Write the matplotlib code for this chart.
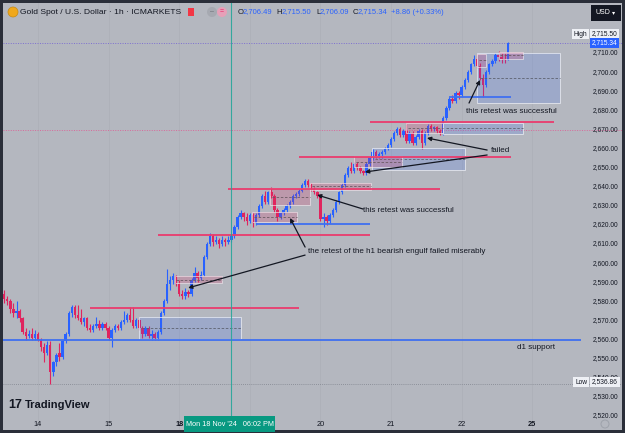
import matplotlib
matplotlib.use("Agg")
import matplotlib.pyplot as plt
from matplotlib.patches import Rectangle, Ellipse
import numpy as np

plt.rcParams["font.family"] = ["Liberation Sans", "DejaVu Sans"]

W, H = 625, 433
BG = "#b4b7bf"
FRAME = "#2a2e39"
BLUE = "#2962ff"
RED = "#e0245e"
INK = "#131722"
TEAL = "#089981"

# hourly candles (open, high, low, close), one list per trading day
nov13 = [
    (2588, 2590, 2582, 2584), (2584, 2586, 2579, 2581), (2581, 2583, 2578, 2580),
    (2580, 2581, 2574, 2576), (2576, 2579, 2572, 2574), (2574, 2580, 2571, 2575),
    (2575, 2576, 2569, 2571), (2571, 2572, 2563, 2564), (2564, 2566, 2560, 2562),
    (2562, 2565, 2561, 2563), (2563, 2566, 2560, 2561), (2561, 2565, 2560, 2563),
]
nov14 = [
    (2563, 2564, 2559, 2560), (2560, 2561, 2554, 2556), (2556, 2558, 2548, 2553),
    (2553, 2559, 2552, 2557), (2557, 2559, 2536.86, 2543), (2543, 2549, 2541, 2548),
    (2548, 2553, 2546, 2552), (2553, 2558, 2549, 2551), (2551, 2560, 2550, 2559),
    (2559, 2564, 2558, 2563), (2563, 2575, 2562, 2574), (2574, 2578, 2572, 2577),
    (2577, 2578, 2571, 2573), (2573, 2578, 2570, 2571), (2571, 2576, 2568, 2569),
    (2569, 2572, 2567, 2571), (2571, 2572, 2565, 2566), (2566, 2568, 2564, 2565),
    (2565, 2568, 2564, 2567), (2567, 2572, 2566, 2568), (2568, 2570, 2565, 2566),
    (2566, 2569, 2565, 2568), (2568, 2569, 2565, 2566),
]
nov15 = [
    (2566, 2567, 2560, 2561), (2561, 2566, 2556, 2565), (2565, 2568, 2564, 2567),
    (2567, 2568, 2565, 2566), (2566, 2570, 2565, 2569), (2569, 2575, 2568, 2570),
    (2570, 2574, 2569, 2573), (2573, 2577, 2569, 2570), (2570, 2577, 2566, 2567),
    (2567, 2571, 2566, 2570), (2570, 2571, 2565, 2566), (2566, 2567, 2561, 2563),
    (2563, 2567, 2562, 2566), (2566, 2567, 2561, 2562), (2562, 2565, 2560, 2563),
    (2563, 2564, 2560, 2561), (2561, 2565, 2560, 2564), (2564, 2575, 2563, 2574),
    (2574, 2581, 2573, 2580), (2580, 2597, 2579, 2589), (2589, 2593, 2586, 2591),
    (2591, 2595, 2589, 2593), (2593, 2594, 2588, 2589),
]
nov18 = [
    (2589, 2591, 2583, 2584), (2584, 2586, 2581, 2583), (2583, 2587, 2581, 2585),
    (2585, 2586, 2582, 2584), (2584, 2592, 2583, 2591), (2591, 2598, 2590, 2595),
    (2595, 2596, 2590, 2592), (2592, 2596, 2591, 2594), (2594, 2604, 2593, 2603),
    (2603, 2611, 2602, 2610), (2610, 2616, 2609, 2614), (2614, 2615, 2609, 2611),
    (2611, 2614, 2610, 2612), (2612, 2613, 2608, 2610), (2610, 2614, 2609, 2612),
    (2612, 2613, 2609, 2611), (2611, 2614, 2610, 2612), (2612, 2615, 2611, 2614),
    (2614, 2620, 2613, 2619), (2619, 2625, 2618, 2624), (2624, 2628, 2623, 2626),
    (2626, 2627, 2622, 2624), (2624, 2626, 2620, 2622),
]
nov19 = [
    (2622, 2626, 2621, 2625), (2625, 2626, 2619, 2621), (2621, 2626, 2620, 2625),
    (2625, 2631, 2624, 2630), (2630, 2636, 2629, 2635), (2635, 2638, 2631, 2632),
    (2632, 2638, 2631, 2637), (2637, 2640, 2634, 2635), (2635, 2636, 2627, 2628),
    (2628, 2629, 2622, 2624), (2624, 2627, 2623, 2626), (2626, 2629, 2625, 2628),
    (2628, 2631, 2627, 2630), (2630, 2633, 2629, 2632), (2632, 2636, 2631, 2635),
    (2635, 2637, 2634, 2636), (2636, 2639, 2635, 2638), (2638, 2642, 2637, 2641),
    (2641, 2644, 2640, 2643), (2643, 2644, 2640, 2641), (2641, 2642, 2638, 2639),
    (2639, 2640, 2636, 2637), (2637, 2638, 2634, 2635),
]
nov20 = [
    (2635, 2636, 2622, 2623), (2623, 2626, 2619, 2624), (2624, 2625, 2620, 2622),
    (2622, 2626, 2621, 2625), (2625, 2629, 2624, 2628), (2628, 2633, 2627, 2632),
    (2632, 2638, 2631, 2637), (2637, 2642, 2636, 2641), (2641, 2647, 2640, 2646),
    (2646, 2651, 2645, 2650), (2650, 2653, 2647, 2648), (2648, 2653, 2647, 2652),
    (2652, 2653, 2649, 2650), (2650, 2651, 2647, 2648), (2648, 2649, 2646, 2647),
    (2647, 2653, 2646, 2652), (2652, 2656, 2651, 2655), (2655, 2660, 2654, 2658),
    (2658, 2659, 2655, 2656), (2656, 2658, 2655, 2657), (2657, 2659, 2655, 2658),
    (2658, 2661, 2657, 2660), (2660, 2663, 2659, 2662),
]
nov21 = [
    (2662, 2666, 2661, 2665), (2665, 2669, 2664, 2668), (2668, 2671, 2667, 2670),
    (2670, 2671, 2666, 2667), (2667, 2670, 2666, 2669), (2669, 2673, 2663, 2664),
    (2664, 2669, 2663, 2668), (2668, 2669, 2662, 2663), (2663, 2667, 2662, 2666),
    (2666, 2670, 2665, 2669), (2669, 2670, 2660, 2663), (2663, 2669, 2662, 2668),
    (2668, 2673, 2667, 2672), (2672, 2673, 2669, 2670), (2670, 2672, 2669, 2671),
    (2671, 2672, 2668, 2669), (2669, 2670, 2667, 2668), (2668, 2677, 2667, 2676),
    (2676, 2682, 2675, 2681), (2681, 2687, 2680, 2686), (2686, 2688, 2684, 2685),
    (2685, 2690, 2684, 2689), (2689, 2690, 2686, 2688),
]
nov22 = [
    (2688, 2693, 2687, 2692), (2692, 2697, 2691, 2696), (2696, 2701, 2695, 2700),
    (2700, 2705, 2699, 2704), (2704, 2709, 2703, 2707), (2707, 2709, 2702, 2703),
    (2703, 2705, 2696, 2697), (2697, 2699, 2687, 2693), (2693, 2701, 2692, 2700),
    (2700, 2705, 2699, 2704), (2704, 2707, 2703, 2706), (2706, 2710, 2705, 2709),
    (2709, 2711, 2706, 2708), (2708, 2710, 2705, 2707), (2707, 2710, 2705, 2706.49),
    (2706.49, 2715.50, 2706.09, 2715.34),
]

day_names = ["14", "15", "18", "19", "20", "21", "22", "25"]
bold_days = ["18", "25"]
hidden_days = ["19"]            # covered by the crosshair date label
BARS_PER_DAY = 23

# drawings on the chart (bar index, price)
red_levels = [2576.7, 2614.7, 2638.6, 2655.7, 2674.0]
red_spans = [(17, 85), (39, 108), (62, 131), (85, 154), (108, 168)]
blue_levels = [2559.7, 2620.4, 2687.0]
blue_spans = [(-13, 177), (71, 108), (134, 154)]
blue_zones = [(33, 66, 2560.3, 2571.8), (108.8, 139, 2648.7, 2660.3),
              (132, 158, 2667.6, 2673.4), (143, 170, 2683.8, 2710.0)]
pink_zones = [(44.6, 60, 2589.6, 2593.2), (69.7, 84.4, 2621.5, 2626.8),
              (75.6, 88.6, 2630.4, 2639.3), (88.6, 108.5, 2638.3, 2642.0),
              (103, 118.6, 2650.3, 2656.0), (120, 132, 2668.0, 2673.4),
              (143, 146, 2702.7, 2709.5), (150, 158, 2706.9, 2710.5)]
arrows = [((87, 2608.4), (82.1, 2623.6)), ((87, 2604.2), (48.9, 2587.0)),
          ((105.9, 2628.3), (90.9, 2635.7)), ((146.3, 2659.2), (126.7, 2665.5)),
          ((146.3, 2656.6), (106.5, 2647.7)), ((140.4, 2683.8), (144.0, 2695.9))]
notes = [("the retest of the h1 bearish engulf failed miserably", 88, 2606.3),
         ("this retest was successful", 105.9, 2627.8),
         ("failed", 147.6, 2658.7),
         ("this retest was successful", 139.4, 2679.6),
         ("d1 support", 156, 2556.0)]
crosshair_bar = 62.9
last_price = 2715.34
prev_close = 2669.7
low_price = 2536.86
price_ticks = list(range(2520, 2711, 10))

# pixel geometry of the screenshot
X0_PX, BAR_PX = 38, 3.07        # first bar of the 14th, spacing
Y_REF_PX, Y_REF, PX_USD = 53, 2710, 1.91


def fx(px):
    return px / W


def fy(py):
    return 1 - py / H


def main():
    candles = np.array(nov13 + nov14 + nov15 + nov18 + nov19 + nov20 + nov21 + nov22, dtype=float)
    o, h, l, c = candles.T
    x = np.arange(len(candles)) - len(nov13)

    fig = plt.figure(figsize=(W / 100, H / 100), dpi=100, facecolor=FRAME)
    ax = fig.add_axes([fx(3), 3 / H, (W - 6) / W, (H - 6) / H])
    ax.set_facecolor(BG)
    ax.set_xlim((3 - X0_PX) / BAR_PX, (622 - X0_PX) / BAR_PX)
    ax.set_ylim(Y_REF - (430 - Y_REF_PX) / PX_USD, Y_REF + (Y_REF_PX - 3) / PX_USD)
    ax.set_xticks([])
    ax.set_yticks([])
    for sp in ax.spines.values():
        sp.set_visible(False)

    # day grid
    starts = [i * BARS_PER_DAY for i in range(len(day_names))]
    for s in starts:
        ax.axvline(s, color="#adb0b8", lw=0.6, zorder=0)

    # candles
    up = c >= o
    cols = np.where(up, BLUE, RED)
    ax.vlines(x, l, h, colors=cols, lw=0.8, zorder=2)
    ax.bar(x, np.maximum(np.abs(c - o), 0.5), bottom=np.minimum(o, c), width=0.78,
           color=cols, lw=0, zorder=2)

    # dotted reference lines
    ax.axhline(last_price, color="#7d6fd0", lw=0.7, ls=(0, (1, 1.5)), zorder=1)
    ax.axhline(prev_close, color="#d9689a", lw=0.7, ls=(0, (1, 1.5)), zorder=1)
    ax.axhline(low_price, color="#80848e", lw=0.6, ls=(0, (1, 1.5)), zorder=1)

    # zones
    for k0, k1, p0, p1 in blue_zones:
        ax.add_patch(Rectangle((k0, p0), k1 - k0, p1 - p0, fc=BLUE, alpha=0.16,
                               ec="none", zorder=3))
        ax.add_patch(Rectangle((k0, p0), k1 - k0, p1 - p0, fc="none", ec="#e6e9f2",
                               lw=0.7, alpha=0.8, zorder=3))
        ax.hlines((p0 + p1) / 2, k0 + 1, k1, colors="#5d6270", lw=0.6,
                  linestyles=(0, (3, 2)), zorder=3)
    for k0, k1, p0, p1 in pink_zones:
        ax.add_patch(Rectangle((k0, p0), k1 - k0, p1 - p0, fc=RED, alpha=0.2,
                               ec="none", zorder=3))
        ax.add_patch(Rectangle((k0, p0), k1 - k0, p1 - p0, fc="none", ec="#eedfe6",
                               lw=0.6, alpha=0.8, zorder=3))
        ax.hlines((p0 + p1) / 2, k0 + 0.5, k1, colors="#6b5a64", lw=0.6,
                  linestyles=(0, (3, 2)), zorder=3)

    # levels
    for p, (k0, k1) in zip(red_levels, red_spans):
        ax.hlines(p, k0, k1, colors="#ea3c6e", lw=1.3, zorder=4)
    for p, (k0, k1) in zip(blue_levels, blue_spans):
        ax.hlines(p, k0, k1, colors="#3f6ff0", lw=1.3, zorder=4)

    ax.axvline(crosshair_bar, color="#26a69a", lw=0.8, alpha=0.9, zorder=5)

    for (x0, y0), (x1, y1) in arrows:
        ax.annotate("", xy=(x1, y1), xytext=(x0, y0),
                    arrowprops=dict(arrowstyle="-|>", lw=0.9, color=INK,
                                    mutation_scale=6, shrinkA=0, shrinkB=0),
                    zorder=6)
    for txt, k, p in notes:
        ax.text(k, p, txt, fontsize=5.8, color=INK, ha="left", va="center", zorder=6)

    # price scale
    yt = ax.get_yaxis_transform()
    for p in price_ticks:
        ax.text((618 - 3) / (W - 6), p, f"{p:,.2f}", transform=yt, fontsize=4.8,
                color=INK, ha="right", va="center", zorder=6)

    def badge(px, py, txt, fc, tc, size=4.8, ha="left"):
        fig.text(fx(px), fy(py), txt, fontsize=size, color=tc, ha=ha, va="center",
                 bbox=dict(boxstyle="square,pad=0.25", fc=fc, ec="none"), zorder=10)

    badge(574, 34, "High", "#eef0f5", INK)
    badge(592, 34, "2,715.50", "#eef0f5", INK)
    badge(592, 43, "2,715.34", BLUE, "white")
    badge(575, 382, "Low", "#eef0f5", INK)
    badge(592, 382, "2,536.86", "#eef0f5", INK)

    # time scale
    for name, s in zip(day_names, starts):
        if name in hidden_days:
            continue
        px = X0_PX + s * BAR_PX
        fig.text(fx(px), fy(424), name, fontsize=5.3, color=INK, ha="center", va="center",
                 fontweight="bold" if name in bold_days else "normal", zorder=8)
    fig.add_artist(Rectangle((fx(184), fy(432)), fx(91), 16 / H, transform=fig.transFigure,
                             fc=TEAL, ec="none", zorder=9))
    fig.text(fx(230), fy(424), "Mon 18 Nov '24   06:02 PM", fontsize=5.2, color="white",
             ha="center", va="center", zorder=10)
    fig.add_artist(Ellipse((fx(605), fy(424)), 8 / W, 8 / H, transform=fig.transFigure,
                           fc="none", ec="#9ea2ab", lw=0.7, zorder=9))

    # header
    fig.add_artist(Ellipse((fx(13), fy(12)), 10 / W, 10 / H, transform=fig.transFigure,
                           fc="#f0a81c", ec="#c98a10", lw=0.5, zorder=9))
    fig.text(fx(20), fy(12), "Gold Spot / U.S. Dollar · 1h · ICMARKETS", fontsize=6.1,
             color=INK, ha="left", va="center", zorder=10)
    fig.add_artist(Rectangle((fx(188), fy(16)), fx(6), 8 / H, transform=fig.transFigure,
                             fc="#f23645", ec="none", zorder=9))
    fig.add_artist(Ellipse((fx(212), fy(12)), 10 / W, 10 / H, transform=fig.transFigure,
                           fc="#a6a9b1", ec="none", zorder=9))
    fig.add_artist(Ellipse((fx(222), fy(12)), 10 / W, 10 / H, transform=fig.transFigure,
                           fc="#e6a0b8", ec="none", zorder=9))
    fig.text(fx(212), fy(12), "–", fontsize=5, color="#6a6d75", ha="center", va="center", zorder=10)
    fig.text(fx(222), fy(12), "=", fontsize=5, color="#e91e63", ha="center", va="center", zorder=10)

    ohlc = [("O", 238, INK), ("2,706.49", 243, BLUE), ("H", 276, INK), ("2,715.50", 282, BLUE),
            ("L", 316, INK), ("2,706.09", 320, BLUE), ("C", 353, INK), ("2,715.34", 358, BLUE),
            ("+8.86 (+0.33%)", 391, BLUE)]
    for txt, px, col in ohlc:
        fig.text(fx(px), fy(12), txt, fontsize=5.5, color=col, ha="left", va="center", zorder=10)

    fig.add_artist(Rectangle((fx(591), fy(21)), fx(30), 16 / H, transform=fig.transFigure,
                             fc="#131722", ec="none", zorder=9))
    fig.text(fx(596), fy(13), "USD", fontsize=5, color="white", ha="left", va="center", zorder=10)
    fig.text(fx(614), fy(13), "▾", fontsize=4.5, color="white", ha="center", va="center", zorder=10)

    # logo
    fig.text(fx(8), fy(405), "17", fontsize=9, color=INK, fontweight="heavy",
             ha="left", va="center", zorder=10)
    fig.text(fx(25), fy(405), "TradingView", fontsize=8, color=INK, fontweight="bold",
             ha="left", va="center", zorder=10)

    fig.savefig("out.png", dpi=100, facecolor=FRAME)
    plt.close(fig)


if __name__ == "__main__":
    main()
